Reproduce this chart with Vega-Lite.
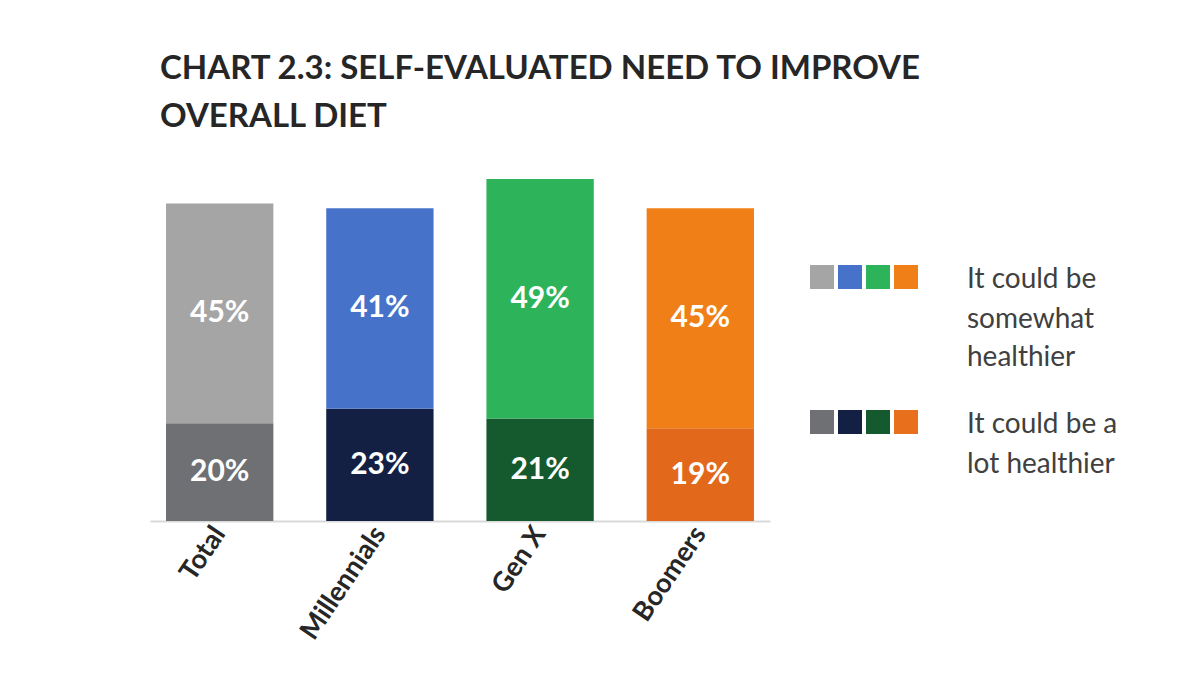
{
  "$schema": "https://vega.github.io/schema/vega-lite/v6.json",
  "background": "white",
  "padding": {"left": 150, "top": 53, "right": 10, "bottom": 5},
  "title": {
    "text": ["CHART 2.3: SELF-EVALUATED NEED TO IMPROVE", "OVERALL DIET"],
    "anchor": "start",
    "dx": 10,
    "font": "Lato",
    "fontSize": 33,
    "fontWeight": "bold",
    "color": "#262626",
    "lineHeight": 48,
    "offset": 45
  },
  "config": {"view": {"stroke": null}},
  "datasets": {
    "bars": [
      {"group": "Total", "segment": "It could be a lot healthier", "order": 1, "value": 20, "color": "#6e7073"},
      {"group": "Total", "segment": "It could be somewhat healthier", "order": 2, "value": 45, "color": "#a5a5a5"},
      {"group": "Millennials", "segment": "It could be a lot healthier", "order": 1, "value": 23, "color": "#142043"},
      {"group": "Millennials", "segment": "It could be somewhat healthier", "order": 2, "value": 41, "color": "#4673c9"},
      {"group": "Gen X", "segment": "It could be a lot healthier", "order": 1, "value": 21, "color": "#155a2e"},
      {"group": "Gen X", "segment": "It could be somewhat healthier", "order": 2, "value": 49, "color": "#2db35a"},
      {"group": "Boomers", "segment": "It could be a lot healthier", "order": 1, "value": 19, "color": "#e2691c"},
      {"group": "Boomers", "segment": "It could be somewhat healthier", "order": 2, "value": 45, "color": "#f07f17"}
    ],
    "swatches": [
      {"row": 98, "pos": 32, "color": "#a5a5a5"},
      {"row": 98, "pos": 60, "color": "#4673c9"},
      {"row": 98, "pos": 88, "color": "#2db35a"},
      {"row": 98, "pos": 116, "color": "#f07f17"},
      {"row": 243, "pos": 32, "color": "#6e7073"},
      {"row": 243, "pos": 60, "color": "#142043"},
      {"row": 243, "pos": 88, "color": "#155a2e"},
      {"row": 243, "pos": 116, "color": "#e8701c"}
    ],
    "legendText": [
      {"row": 101, "pos": 177, "line": "It could be"},
      {"row": 141, "pos": 177, "line": "somewhat"},
      {"row": 179, "pos": 177, "line": "healthier"},
      {"row": 246, "pos": 177, "line": "It could be a"},
      {"row": 286, "pos": 177, "line": "lot healthier"}
    ]
  },
  "spacing": 20,
  "hconcat": [
    {
      "width": 620,
      "height": 342,
      "data": {"name": "bars"},
      "transform": [
        {"stack": "value", "groupby": ["group"], "sort": [{"field": "order", "order": "ascending"}], "as": ["v0", "v1"]},
        {"calculate": "(datum.v0 + datum.v1) / 2", "as": "mid"},
        {"calculate": "datum.value + '%'", "as": "label"}
      ],
      "encoding": {
        "x": {
          "field": "group",
          "type": "nominal",
          "sort": ["Total", "Millennials", "Gen X", "Boomers"],
          "scale": {"paddingInner": 0.33, "paddingOuter": 0.1},
          "axis": {
            "title": null,
            "labelAngle": -56,
            "labelFont": "Lato",
            "labelFontSize": 27,
            "labelFontWeight": "bold",
            "labelColor": "#262626",
            "labelPadding": 8,
            "ticks": false,
            "domainColor": "#d9d9d9",
            "domainWidth": 2
          }
        }
      },
      "layer": [
        {
          "mark": {"type": "bar"},
          "encoding": {
            "y": {"field": "v0", "type": "quantitative", "scale": {"domain": [0, 70]}, "axis": null},
            "y2": {"field": "v1"},
            "color": {"field": "color", "type": "nominal", "scale": null, "legend": null}
          }
        },
        {
          "mark": {"type": "text", "font": "Lato", "fontSize": 30, "fontWeight": "bold", "color": "white", "baseline": "middle"},
          "encoding": {
            "y": {"field": "mid", "type": "quantitative", "scale": {"domain": [0, 70]}, "axis": null},
            "text": {"field": "label"}
          }
        }
      ]
    },
    {
      "width": 360,
      "height": 342,
      "layer": [
        {
          "data": {"name": "swatches"},
          "mark": {"type": "square", "size": 576, "filled": true, "opacity": 1},
          "encoding": {
            "x": {"field": "pos", "type": "quantitative", "scale": {"domain": [0, 360]}, "axis": null},
            "y": {"field": "row", "type": "quantitative", "scale": {"domain": [342, 0]}, "axis": null},
            "color": {"field": "color", "type": "nominal", "scale": null, "legend": null}
          }
        },
        {
          "data": {"name": "legendText"},
          "mark": {"type": "text", "font": "Lato", "fontSize": 28, "color": "#404040", "align": "left", "baseline": "middle"},
          "encoding": {
            "x": {"field": "pos", "type": "quantitative", "scale": {"domain": [0, 360]}, "axis": null},
            "y": {"field": "row", "type": "quantitative", "scale": {"domain": [342, 0]}, "axis": null},
            "text": {"field": "line"}
          }
        }
      ]
    }
  ]
}
